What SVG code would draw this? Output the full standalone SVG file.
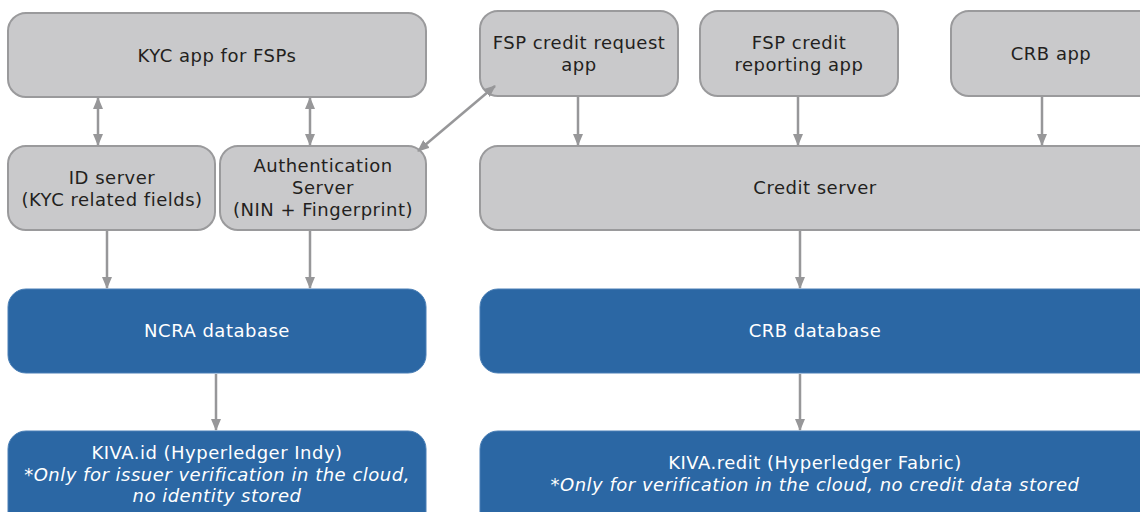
<svg xmlns="http://www.w3.org/2000/svg" width="1140" height="512" viewBox="0 0 1140 512">
<style>
.g{fill:#c9c9cb;stroke:#9a9a9c;stroke-width:2}
.b{fill:#2b67a4;stroke:#4a7fb6;stroke-width:1}
.t{font-family:"DejaVu Sans","Liberation Sans",sans-serif;font-size:18px;letter-spacing:0.5px;fill:#231f20;text-anchor:middle}
.w{font-family:"DejaVu Sans","Liberation Sans",sans-serif;font-size:18px;letter-spacing:0.5px;fill:#ffffff;text-anchor:middle}
.i{font-style:italic}
.c{stroke:#979799;stroke-width:2.5;fill:none}
</style>
<defs>
<marker id="ah" viewBox="0 0 12 10" refX="11" refY="5" markerWidth="12" markerHeight="10" markerUnits="userSpaceOnUse" orient="auto-start-reverse">
<path d="M0,0 L12,5 L0,10 Z" fill="#979799"/>
</marker>
</defs>
<g id="kyc"><rect class="g" x="8" y="13" width="418" height="84" rx="18"/><text class="t" x="217" y="62">KYC app for FSPs</text></g>
<g id="idserver"><rect class="g" x="8" y="146" width="207" height="84" rx="18"/><text class="t" x="112" y="184">ID server</text><text class="t" x="112" y="206">(KYC related fields)</text></g>
<g id="auth"><rect class="g" x="220" y="146" width="206" height="84" rx="18"/><text class="t" x="323" y="172">Authentication</text><text class="t" x="323" y="194">Server</text><text class="t" x="323" y="216">(NIN + Fingerprint)</text></g>
<g id="fspreq"><rect class="g" x="480" y="11" width="198" height="85" rx="18"/><text class="t" x="579" y="49">FSP credit request</text><text class="t" x="579" y="71">app</text></g>
<g id="fsprep"><rect class="g" x="700" y="11" width="198" height="85" rx="18"/><text class="t" x="799" y="49">FSP credit</text><text class="t" x="799" y="71">reporting app</text></g>
<g id="crbapp"><rect class="g" x="951" y="11" width="210" height="85" rx="18"/><text class="t" x="1051" y="60">CRB app</text></g>
<g id="credit"><rect class="g" x="480" y="146" width="680" height="84" rx="18"/><text class="t" x="815" y="194">Credit server</text></g>
<g id="ncra"><rect class="b" x="8" y="289" width="418" height="84" rx="18"/><text class="w" x="217" y="337">NCRA database</text></g>
<g id="crbdb"><rect class="b" x="480" y="289" width="680" height="84" rx="18"/><text class="w" x="815" y="337">CRB database</text></g>
<g id="kivaid"><rect class="b" x="8" y="431" width="418" height="100" rx="18"/><text class="w" x="217" y="459">KIVA.id (Hyperledger Indy)</text><text class="w i" x="217" y="481">*Only for issuer verification in the cloud,</text><text class="w i" x="217" y="502">no identity stored</text></g>
<g id="kivaredit"><rect class="b" x="480" y="431" width="680" height="100" rx="18"/><text class="w" x="815" y="469">KIVA.redit (Hyperledger Fabric)</text><text class="w i" x="815" y="491">*Only for verification in the cloud, no credit data stored</text></g>
<g id="connectors">
<line class="c" x1="98" y1="98" x2="98" y2="145" marker-start="url(#ah)" marker-end="url(#ah)"/>
<line class="c" x1="310" y1="98" x2="310" y2="145" marker-start="url(#ah)" marker-end="url(#ah)"/>
<line class="c" x1="418" y1="151" x2="495" y2="86" marker-start="url(#ah)" marker-end="url(#ah)"/>
<line class="c" x1="107" y1="231" x2="107" y2="288" marker-end="url(#ah)"/>
<line class="c" x1="310" y1="231" x2="310" y2="288" marker-end="url(#ah)"/>
<line class="c" x1="216" y1="374" x2="216" y2="430" marker-end="url(#ah)"/>
<line class="c" x1="578" y1="97" x2="578" y2="145" marker-end="url(#ah)"/>
<line class="c" x1="798" y1="97" x2="798" y2="145" marker-end="url(#ah)"/>
<line class="c" x1="1042" y1="97" x2="1042" y2="145" marker-end="url(#ah)"/>
<line class="c" x1="800" y1="231" x2="800" y2="288" marker-end="url(#ah)"/>
<line class="c" x1="800" y1="374" x2="800" y2="430" marker-end="url(#ah)"/>
</g>
</svg>
